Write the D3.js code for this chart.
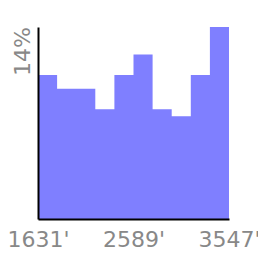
<!DOCTYPE html>
<style>
body { margin: 0; background: #fff; }
svg { font-family: "DejaVu Sans", sans-serif; }
</style>
<svg width="258" height="253"></svg>
<script src="https://d3js.org/d3.v7.min.js"></script>
<script>

// elevation range in feet, and how many of the 200 samples fall in each of the 10 bins
var rangeMin = 1631,
    rangeMax = 3547;
var counts = [21, 19, 19, 16, 21, 24, 16, 15, 21, 28];
var total = 200;
var xTicks = [1631, 2589, 3547];

var svg = d3.select("svg"),
    margin = {top: 27, right: 29, bottom: 34, left: 38},
    width = +svg.attr("width") - margin.left - margin.right,
    height = +svg.attr("height") - margin.top - margin.bottom;

var g = svg.append("g")
    .attr("transform", "translate(" + margin.left + "," + margin.top + ")");

var binWidth = (rangeMax - rangeMin) / counts.length;
var bins = counts.map(function(c, i) {
  return {x0: rangeMin + i * binWidth, x1: rangeMin + (i + 1) * binWidth, p: c / total};
});

var x = d3.scaleLinear().domain([rangeMin, rangeMax]).range([0, width]);
var y = d3.scaleLinear().domain([0, d3.max(bins, function(d) { return d.p; })]).range([height, 0]);

// one stepped area so neighbouring bins don't show seams
var steps = bins.map(function(d) { return [d.x0, d.p]; });
steps.push([bins[bins.length - 1].x1, bins[bins.length - 1].p]);

var area = d3.area()
    .curve(d3.curveStepAfter)
    .x(function(d) { return x(d[0]); })
    .y0(height)
    .y1(function(d) { return y(d[1]); });

g.append("path")
    .datum(steps)
    .attr("d", area)
    .attr("fill", "#7f7fff");

// axes: plain black lines, no tick marks
var xAxis = g.append("g")
    .attr("transform", "translate(0," + height + ")")
    .call(d3.axisBottom(x).tickValues(xTicks).tickSize(0).tickPadding(12)
      .tickFormat(function(d) { return d + "'"; }));

var yAxis = g.append("g")
    .call(d3.axisLeft(y).tickValues([]).tickSize(0));

g.selectAll(".domain").attr("stroke", "#000").attr("stroke-width", 2);

xAxis.selectAll("text")
    .attr("font-size", 22)
    .attr("font-family", "DejaVu Sans, sans-serif")
    .attr("fill", "#888");

// max percentage, rotated, sitting at the top of the y axis
g.append("text")
    .attr("transform", "translate(-8," + y(y.domain()[1]) + ") rotate(-90)")
    .attr("text-anchor", "end")
    .attr("font-size", 22)
    .attr("fill", "#888")
    .text(d3.format(".0%")(y.domain()[1]));

</script>
